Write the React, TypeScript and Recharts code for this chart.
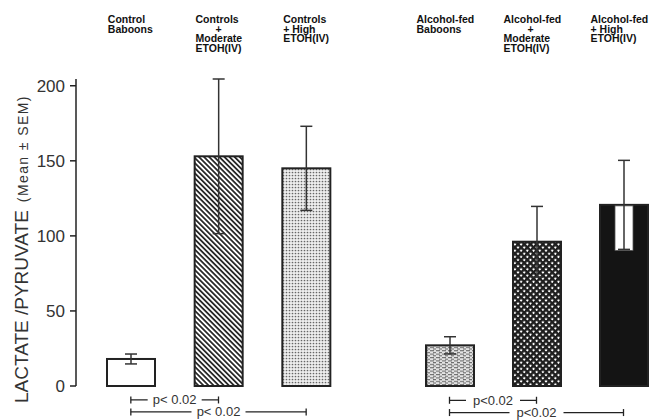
import { BarChart, Bar, Cell, XAxis, YAxis, ErrorBar, ReferenceLine } from 'recharts'

// values
const controlGroups = ['Control\nBaboons', 'Controls\n+\nModerate\nETOH(IV)', 'Controls\n+ High\nETOH(IV)']
const controlMeans = [18, 153, 145]
const controlSem = [3.3, 51.5, 28]

const alcoholGroups = ['Alcohol-fed\nBaboons', 'Alcohol-fed\n+\nModerate\nETOH(IV)', 'Alcohol-fed\n+ High\nETOH(IV)']
const alcoholMeans = [26.5, 94, 118]
const alcoholSem = [5.6, 23, 29]

const yTicks = [0, 50, 100, 150, 200]
const controlTests = [
  { from: 0, to: 1, label: 'p< 0.02' },
  { from: 0, to: 2, label: 'p< 0.02' },
]
const alcoholTests = [
  { from: 0, to: 1, label: 'p<0.02' },
  { from: 0, to: 2, label: 'p<0.02' },
]

const controlData = controlGroups.map((g, i) => ({ group: g, mean: controlMeans[i], sem: controlSem[i] }))
const alcoholData = alcoholGroups.map((g, i) => ({ group: g, mean: alcoholMeans[i], sem: alcoholSem[i] }))

const FONT = '"Liberation Sans", Arial, sans-serif'
const INK = '#222'
const SOLID = '#141414'
const TOP_AXIS_H = 79
const bracketLevels = [-9.3, -17.3]
const leftFills = ['#ffffff', 'url(#hatch)', 'url(#dots)']
const rightFills = ['url(#dash)', 'url(#cross)', SOLID]

function GroupTick(props: any) {
  const { x, payload, shift, plusShift } = props
  const lines = String(payload.value).split('\n')
  const left = x + shift
  return (
    <g>
      {lines.map((ln: string, i: number) => (
        <text
          key={i}
          x={ln === '+' ? x + plusShift : left}
          y={23 + i * 9.7}
          textAnchor={ln === '+' ? 'middle' : 'start'}
          fontSize={10.5}
          fontWeight="bold"
          fontFamily={FONT}
          fill="#111"
        >
          {ln}
        </text>
      ))}
    </g>
  )
}

function BarShape(props: any) {
  const { x, y, width, height, fill, payload } = props
  const inner = fill === SOLID ? (payload.sem * height) / payload.mean : 0
  return (
    <g>
      <rect x={x} y={y} width={width} height={height} fill={fill} stroke={INK} strokeWidth={2} />
      {inner > 0 && <rect x={x + width / 2 - 9} y={y + 1} width={18} height={inner} fill="#fff" stroke="#555" strokeWidth={0.8} />}
    </g>
  )
}

function Bracket(props: any) {
  const { viewBox, text } = props
  if (!viewBox) return null
  const { x, y, width } = viewBox
  const cx = x + width / 2
  return (
    <g>
      <line x1={x} x2={x} y1={y - 3.5} y2={y + 3.5} stroke={INK} strokeWidth={1.3} />
      <line x1={x + width} x2={x + width} y1={y - 3.5} y2={y + 3.5} stroke={INK} strokeWidth={1.3} />
      <rect x={cx - 27} y={y - 6} width={54} height={12} fill="#fff" />
      <text x={cx} y={y + 4.5} textAnchor="middle" fontSize={13} fontFamily={FONT} fill="#333">
        {text}
      </text>
    </g>
  )
}

function brackets(groups: string[], tests: { from: number; to: number; label: string }[]) {
  return tests.map((t, i) => (
    <ReferenceLine
      key={i}
      ifOverflow="visible"
      segment={[
        { x: groups[t.from], y: bracketLevels[i] },
        { x: groups[t.to], y: bracketLevels[i] },
      ]}
      stroke={INK}
      strokeWidth={1.3}
      label={<Bracket text={t.label} />}
    />
  ))
}

export default function App() {
  return (
    <div style={{ position: 'absolute', left: 0, top: 0, width: 654, height: 420, overflow: 'hidden', background: '#fff' }}>
      <div style={{ position: 'absolute', left: 0, top: 0 }}>
        <BarChart width={350} height={420} data={controlData} margin={{ top: 0, right: 0, bottom: 34, left: 0 }}>
          <defs>
            <pattern id="hatch" patternUnits="userSpaceOnUse" width={3.6} height={3.6} patternTransform="rotate(-45)">
              <rect width={3.6} height={3.6} fill="#fff" />
              <rect width={1.8} height={3.6} fill="#2a2a2a" />
            </pattern>
            <pattern id="dots" patternUnits="userSpaceOnUse" width={3} height={3}>
              <rect width={3} height={3} fill="#eee" />
              <circle cx={1.5} cy={1.5} r={0.85} fill="#666" />
            </pattern>
          </defs>
          <text transform="translate(28,403) rotate(-90)" fontFamily={FONT} fill="#333">
            <tspan fontSize={19}>LACTATE /PYRUVATE</tspan>
            <tspan fontSize={14} dx={8} letterSpacing={1.4}>(Mean ± SEM)</tspan>
          </text>
          <XAxis
            dataKey="group"
            orientation="top"
            height={TOP_AXIS_H}
            axisLine={false}
            tickLine={false}
            interval={0}
            padding={{ left: 11, right: 0 }}
            tick={<GroupTick shift={-23} plusShift={0} />}
          />
          <YAxis
            width={76}
            domain={[0, 200]}
            ticks={yTicks}
            tickSize={6}
            tickMargin={5}
            axisLine={{ stroke: INK, strokeWidth: 1.5 }}
            tickLine={{ stroke: INK, strokeWidth: 1.5 }}
            tick={{ fontSize: 17, fill: '#333', fontFamily: FONT }}
          />
          <Bar dataKey="mean" barSize={48} shape={<BarShape />} isAnimationActive={false}>
            {controlData.map((_, i) => (
              <Cell key={i} fill={leftFills[i]} />
            ))}
            <ErrorBar dataKey="sem" width={6} stroke="#333" strokeWidth={1.5} />
          </Bar>
          {brackets(controlGroups, controlTests)}
        </BarChart>
      </div>
      <div style={{ position: 'absolute', left: 406, top: 0 }}>
        <BarChart width={261} height={420} data={alcoholData} margin={{ top: 0, right: 0, bottom: 34, left: 0 }}>
          <defs>
            <pattern id="dash" patternUnits="userSpaceOnUse" width={6} height={3.4}>
              <rect width={6} height={3.4} fill="#e4e4e4" />
              <rect x={0} y={0} width={4} height={1.1} fill="#6a6a6a" />
              <rect x={3} y={1.7} width={4} height={1.1} fill="#6a6a6a" />
            </pattern>
            <pattern id="cross" patternUnits="userSpaceOnUse" width={4.4} height={4.4} patternTransform="rotate(45)">
              <rect width={4.4} height={4.4} fill="#fff" />
              <rect width={2.4} height={4.4} fill="#1e1e1e" />
              <rect width={4.4} height={2.4} fill="#1e1e1e" />
            </pattern>
          </defs>
          <XAxis
            dataKey="group"
            orientation="top"
            height={TOP_AXIS_H}
            axisLine={false}
            tickLine={false}
            interval={0}
            tick={<GroupTick shift={-33} plusShift={-6} />}
          />
          <YAxis hide domain={[0, 200]} />
          <Bar dataKey="mean" barSize={48} shape={<BarShape />} isAnimationActive={false}>
            {alcoholData.map((_, i) => (
              <Cell key={i} fill={rightFills[i]} />
            ))}
            <ErrorBar dataKey="sem" width={6} stroke="#333" strokeWidth={1.5} />
          </Bar>
          {brackets(alcoholGroups, alcoholTests)}
        </BarChart>
      </div>
    </div>
  )
}
